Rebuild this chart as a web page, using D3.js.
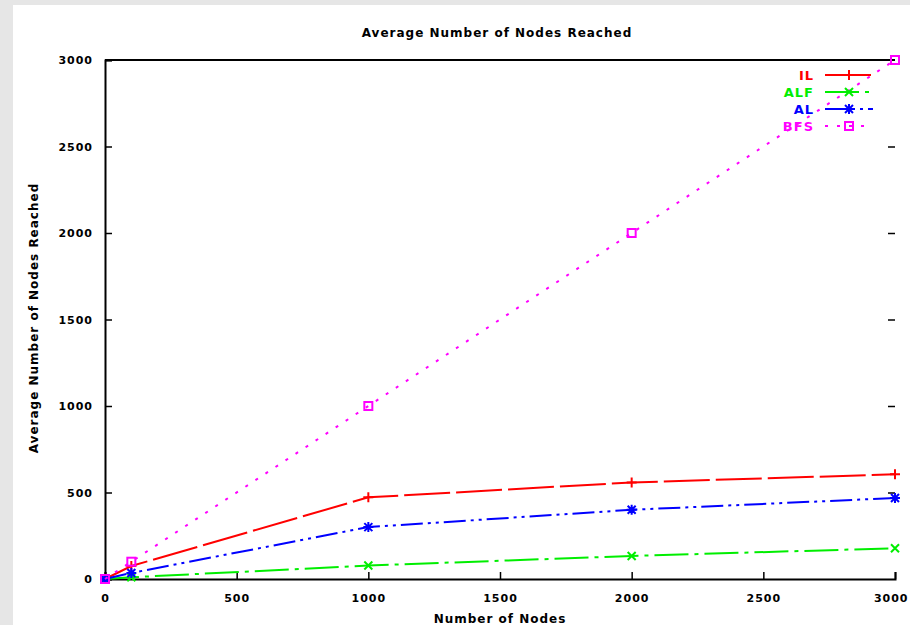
<!DOCTYPE html>
<html>
<head>
<meta charset="utf-8">
<script src="https://cdn.jsdelivr.net/npm/d3@7"></script>
<style>
	body { margin: 0; background: #e6e6e6; }
	svg { display: block; }
	text { font-family: "DejaVu Sans", sans-serif; font-weight: bold; }
</style>
</head>
<body>
<svg id="chart" width="910" height="625"></svg>
<script>
// node counts on the x axis
var nodeCounts = [0, 100, 1000, 2000, 3000];

// average number of nodes reached, per algorithm
var ilValues = [0, 75, 472, 558, 605];
var alfValues = [0, 10, 78, 133, 178];
var alValues = [0, 35, 300, 400, 468];
var bfsValues = [0, 100, 1000, 2000, 3000];

var seriesNames = ['IL', 'ALF', 'AL', 'BFS'];
var xTicks = [0, 500, 1000, 1500, 2000, 2500, 3000];
var yTicks = [0, 500, 1000, 1500, 2000, 2500, 3000];

var series = [
	{name: seriesNames[0], values: ilValues, color: '#ff0000', dash: '46,6', marker: 'plus'}
, {name: seriesNames[1], values: alfValues, color: '#00ee00', dash: '34,6,4,6', marker: 'cross'}
, {name: seriesNames[2], values: alValues, color: '#0000ff', dash: '22,5,3,5,3,5', marker: 'star'}
, {name: seriesNames[3], values: bfsValues, color: '#ff00ff', dash: '3,9', marker: 'square'}
];

var svg = d3.select('#chart');

// white page area
svg.append('rect').attr('x', 13).attr('y', 5).attr('width', 897).attr('height', 620).attr('fill', '#fff');

var plot = {left: 105, right: 895, top: 60, bottom: 579};

var x = d3.scaleLinear().domain([0, 3000]).range([plot.left, plot.right]);
var y = d3.scaleLinear().domain([0, 3000]).range([plot.bottom, plot.top]);

// axes: ticks point inward like gnuplot
var xAxis = svg.append('g').attr('transform', 'translate(0,' + plot.bottom + ')')
	.call(d3.axisBottom(x).tickValues(xTicks).tickSize(-7).tickPadding(15).tickFormat(d3.format('d')));
var yAxis = svg.append('g').attr('transform', 'translate(' + plot.left + ',0)')
	.call(d3.axisLeft(y).tickValues(yTicks).tickSize(-7).tickPadding(12).tickFormat(d3.format('d')));
var yMirror = svg.append('g').attr('transform', 'translate(' + plot.right + ',0)')
	.call(d3.axisRight(y).tickValues(yTicks.slice(1, -1)).tickSize(-7).tickFormat(''));

[xAxis, yAxis, yMirror].forEach(function(a) {
	a.selectAll('line').attr('stroke', '#000').attr('stroke-width', 1.5);
	a.selectAll('text').attr('font-size', 11).attr('letter-spacing', 1).attr('fill', '#000');
});
// last x label sits at the page edge, keep it inside
xAxis.selectAll('.tick text').filter(function(d) { return d === 3000; })
	.attr('text-anchor', 'end').attr('x', 13);
xAxis.select('.domain').attr('stroke', '#000').attr('stroke-width', 2);
yAxis.select('.domain').attr('stroke', '#000').attr('stroke-width', 2);
yMirror.select('.domain').remove();

// top border
svg.append('line').attr('x1', plot.left).attr('x2', plot.right).attr('y1', plot.top).attr('y2', plot.top)
	.attr('stroke', '#000').attr('stroke-width', 2);

// titles
svg.append('text').attr('x', 497).attr('y', 37).attr('text-anchor', 'middle').attr('font-size', 12)
	.attr('letter-spacing', 1).text('Average Number of Nodes Reached');
svg.append('text').attr('x', 500).attr('y', 623).attr('text-anchor', 'middle').attr('font-size', 12)
	.attr('letter-spacing', 1).text('Number of Nodes');
svg.append('text').attr('transform', 'translate(38,318) rotate(-90)').attr('text-anchor', 'middle').attr('font-size', 12)
	.attr('letter-spacing', 1).text('Average Number of Nodes Reached');

function drawMarker(g, type, cx, cy, color) {
	var s = 5;
	if (type === 'plus') {
		g.append('path').attr('d', 'M' + (cx - s) + ',' + cy + 'H' + (cx + s) + 'M' + cx + ',' + (cy - s) + 'V' + (cy + s));
	} else if (type === 'cross') {
		g.append('path').attr('d', 'M' + (cx - 4) + ',' + (cy - 4) + 'L' + (cx + 4) + ',' + (cy + 4) + 'M' + (cx - 4) + ',' + (cy + 4) + 'L' + (cx + 4) + ',' + (cy - 4));
	} else if (type === 'star') {
		g.append('path').attr('d', 'M' + (cx - s) + ',' + cy + 'H' + (cx + s) + 'M' + cx + ',' + (cy - s) + 'V' + (cy + s) +
			'M' + (cx - 4) + ',' + (cy - 4) + 'L' + (cx + 4) + ',' + (cy + 4) + 'M' + (cx - 4) + ',' + (cy + 4) + 'L' + (cx + 4) + ',' + (cy - 4));
	} else if (type === 'square') {
		g.append('rect').attr('x', cx - 4).attr('y', cy - 4).attr('width', 8).attr('height', 8).attr('fill', 'none');
	}
	g.selectAll('path, rect').attr('stroke', color).attr('stroke-width', 2);
}

var line = d3.line().x(function(d) { return x(d[0]); }).y(function(d) { return y(d[1]); });

series.forEach(function(s) {
	var pts = nodeCounts.map(function(n, i) { return [n, s.values[i]]; });
	svg.append('path').datum(pts).attr('d', line)
		.attr('fill', 'none').attr('stroke', s.color).attr('stroke-width', 2).attr('stroke-dasharray', s.dash);
	pts.forEach(function(p) {
		drawMarker(svg.append('g'), s.marker, x(p[0]), y(p[1]), s.color);
	});
});

// legend, top right
var legend = svg.append('g');
series.forEach(function(s, i) {
	var ly = 75 + i * 17;
	legend.append('text').attr('x', 814).attr('y', ly + 5).attr('text-anchor', 'end').attr('font-size', 13)
		.attr('letter-spacing', 1).attr('fill', s.color).text(s.name);
	legend.append('line').attr('x1', 825).attr('x2', 873).attr('y1', ly).attr('y2', ly)
		.attr('stroke', s.color).attr('stroke-width', 2).attr('stroke-dasharray', s.dash);
	drawMarker(legend.append('g'), s.marker, 849, ly, s.color);
});
</script>
</body>
</html>
